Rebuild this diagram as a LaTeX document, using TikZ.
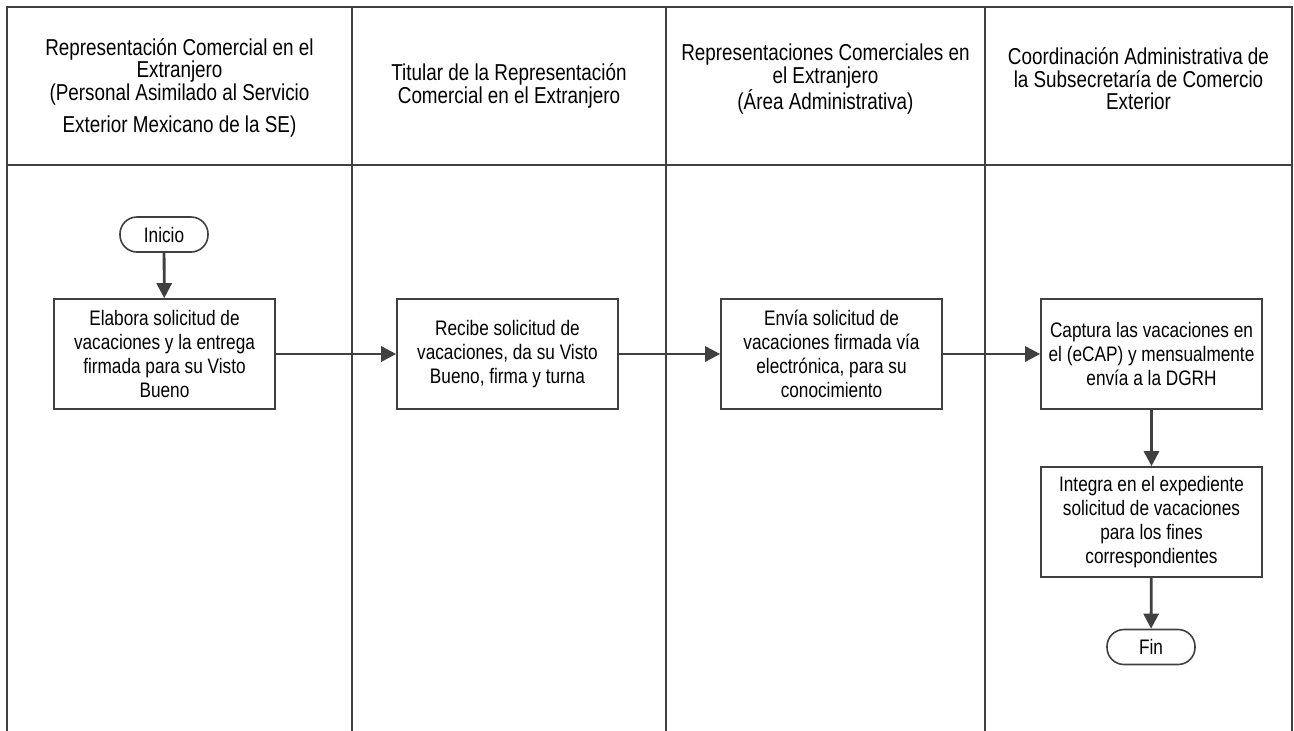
\documentclass[tikz,border=0pt]{standalone}
\usepackage{fontspec}
\setmainfont[FakeStretch=0.82]{Liberation Sans}
\usetikzlibrary{arrows.meta}
\definecolor{linea}{RGB}{64,64,64}
\tikzset{
  actividad/.style={draw=linea, line width=1.6pt, minimum width=221pt, minimum height=110pt,
    align=center, inner sep=0pt, font=\fontsize{21}{24}\selectfont},
  terminal/.style={draw=linea, line width=1.6pt, rounded corners=17pt, minimum width=88pt,
    minimum height=35pt, inner sep=0pt, font=\fontsize{21}{24}\selectfont},
  encabezado/.style={align=center, font=\fontsize{23}{22.5}\selectfont},
  flecha/.style={draw=linea, line width=2.8pt, -{Triangle[length=15pt,width=15pt]}},
  carril/.style={draw=linea, line width=2pt}
}

\begin{document}
\begin{tikzpicture}[x=1pt, y=-1pt]
\useasboundingbox (0,0) rectangle (1294,731);

\draw[carril] (7,731)--(7,7)--(1292,7)--(1292,731);
\draw[carril] (7,165)--(1292,165);
\draw[carril] (352,7)--(352,731);
\draw[carril] (666,7)--(666,731);
\draw[carril] (985,7)--(985,731);

\node[encabezado] (hRep) at (179.5,88) {Representación Comercial en el\\ Extranjero\\ (Personal Asimilado al Servicio\\[10pt] Exterior Mexicano de la SE)};
\node[encabezado] (hTit) at (509,86) {Titular de la Representación\\ Comercial en el Extranjero};
\node[encabezado] (hArea) at (825.5,79) {Representaciones Comerciales en\\ el Extranjero\\ (Área Administrativa)};
\node[encabezado] (hCoord) at (1138.5,79) {Coordinación Administrativa de\\ la Subsecretaría de Comercio\\ Exterior};

\node[terminal] (inicio) at (164,234.5) {Inicio};
\node[actividad] (elabora) at (164.5,354) {Elabora solicitud de\\ vacaciones y la entrega\\ firmada para su Visto\\ Bueno};
\node[actividad] (recibe) at (507.5,354) {Recibe solicitud de\\ vacaciones, da su Visto\\ Bueno, firma y turna};
\node[actividad] (envia) at (831.5,354) {Envía solicitud de\\ vacaciones firmada vía\\ electrónica, para su\\ conocimiento};
\node[actividad] (captura) at (1151.5,354) {Captura las vacaciones en\\ el (eCAP) y mensualmente\\ envía a la DGRH};
\node[actividad] (integra) at (1151.5,522) {Integra en el expediente\\ solicitud de vacaciones\\ para los fines\\ correspondientes};
\node[terminal] (fin) at (1151,647) {Fin};

\draw[flecha] (inicio)--(elabora);
\draw[flecha] (elabora)--(recibe);
\draw[flecha] (recibe)--(envia);
\draw[flecha] (envia)--(captura);
\draw[flecha] (captura)--(integra);
\draw[flecha] (integra)--(fin);
\end{tikzpicture}
\end{document}
